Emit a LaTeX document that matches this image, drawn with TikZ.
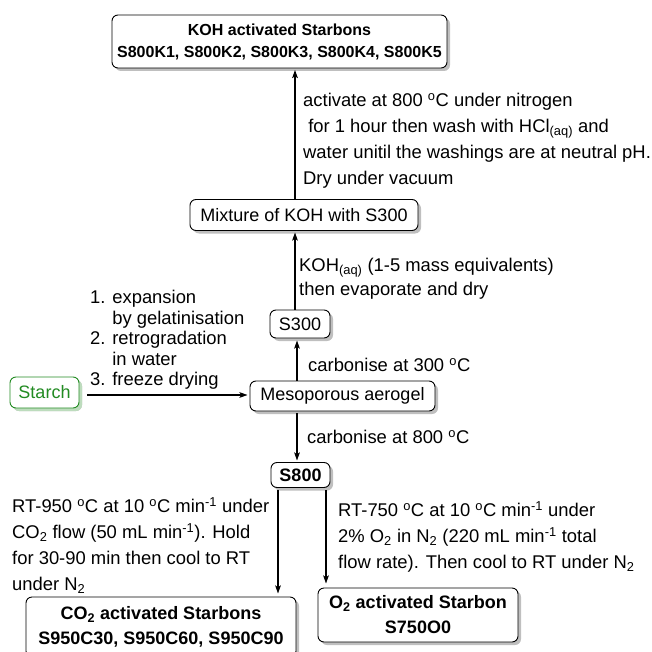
\documentclass[tikz,border=0pt]{standalone}
\usepackage{fontspec}
\setmainfont{Liberation Sans}
\usetikzlibrary{arrows.meta,shadows}
\definecolor{starchgreen}{RGB}{34,139,34}
\begin{document}
\begin{tikzpicture}[x=1pt,y=-1pt,
  txt/.style={font=\fontsize{18.4}{26}\selectfont, inner sep=0pt, anchor=north west, align=left},
  box/.style={draw, rounded corners=6pt, line width=0.9pt, fill=white, align=center, inner sep=0pt,
    font=\fontsize{18}{22}\selectfont, drop shadow={shadow xshift=3pt, shadow yshift=-3pt, fill=black!25, opacity=1}},
  arr/.style={line width=1.6pt, -{Stealth[length=8pt,width=5.5pt,inset=1.5pt]}}]
\useasboundingbox (0,0) rectangle (651,652);

%Rounded Rect: boxes
\node [box, minimum width=335, minimum height=53, font=\fontsize{16}{22}\selectfont\bfseries] (koh) at (279.5,41.5) {KOH activated Starbons\\S800K1, S800K2, S800K3, S800K4, S800K5};
\node [box, minimum width=228, minimum height=31] (mix) at (304,215) {Mixture of KOH with S300};
\node [box, minimum width=60, minimum height=28] (s300) at (300,324) {S300};
\node [box, minimum width=185, minimum height=30] (meso) at (342.5,396) {Mesoporous aerogel};
\node [box, minimum width=69, minimum height=31, draw=starchgreen, text=starchgreen,
  drop shadow={shadow xshift=3pt, shadow yshift=-3pt, fill=starchgreen!30, opacity=1}] (starch) at (44.5,392.5) {Starch};
\node [box, minimum width=59, minimum height=25, font=\fontsize{18}{22}\selectfont\bfseries] (s800) at (300.5,475) {S800};
\node [box, minimum width=270, minimum height=60, font=\fontsize{18}{25}\selectfont\bfseries] (co2) at (161,627) {CO\textsubscript{2} activated Starbons\\S950C30, S950C60, S950C90};
\node [box, minimum width=200, minimum height=54, font=\fontsize{18}{25}\selectfont\bfseries] (o2) at (418,615) {O\textsubscript{2} activated Starbon\\S750O0};

%Straight Lines: arrows
\draw [arr] ([xshift=-9pt]mix.north) -- ([xshift=15.5pt,yshift=-1.5pt]koh.south);
\draw [arr] ([xshift=-5pt]s300.north) -- ([xshift=-9pt,yshift=-1.5pt]mix.south);
\draw [arr] ([xshift=-45.5pt]meso.north) -- ([xshift=-3pt,yshift=-2pt]s300.south);
\draw [arr] ([xshift=8pt,yshift=-2.5pt]starch.east) -- ([xshift=-2pt,yshift=1pt]meso.west);
\draw [arr] ([xshift=-45.5pt,yshift=-2pt]meso.south) -- ([xshift=-3.5pt,yshift=1.5pt]s800.north);
\draw [arr] ([xshift=-22.5pt,yshift=-2pt]s800.south) -- ([xshift=117pt,yshift=3pt]co2.north);
\draw [arr] ([xshift=25.5pt,yshift=-2pt]s800.south) -- ([xshift=-92pt,yshift=4pt]o2.north);

% Text Node
\draw (303,93) node (activate) [txt] {activate at 800 \textsuperscript{o}C under nitrogen\\\ for 1 hour then wash with HCl\textsubscript{(aq)} and\\water unitil the washings are at neutral pH.\\Dry under vacuum};
% Text Node
\draw (299,258) node (kohaq) [txt, font=\fontsize{18.4}{24}\selectfont] {KOH\textsubscript{(aq)} (1-5 mass equivalents)\\then evaporate and dry};
% Text Node
\draw (90,290) node (steps) [txt, font=\fontsize{18.4}{20.5}\selectfont] {1. expansion\\\hphantom{1. }by gelatinisation\\2. retrogradation\\\hphantom{2. }in water\\3. freeze drying};
% Text Node
\draw (308,358) node (carb300) [txt] {carbonise at 300 \textsuperscript{o}C};
% Text Node
\draw (307,430) node (carb800) [txt] {carbonise at 800 \textsuperscript{o}C};
% Text Node
\draw (12,497) node (cotwo) [txt] {RT-950 \textsuperscript{o}C at 10 \textsuperscript{o}C min\textsuperscript{-1} under\\CO\textsubscript{2} flow (50 mL min\textsuperscript{-1}). Hold\\for 30-90 min then cool to RT\\under N\textsubscript{2}};
% Text Node
\draw (338,501) node (otwo) [txt] {RT-750 \textsuperscript{o}C at 10 \textsuperscript{o}C min\textsuperscript{-1} under\\2\% O\textsubscript{2} in N\textsubscript{2} (220 mL min\textsuperscript{-1} total\\flow rate). Then cool to RT under N\textsubscript{2}};
\end{tikzpicture}
\end{document}
